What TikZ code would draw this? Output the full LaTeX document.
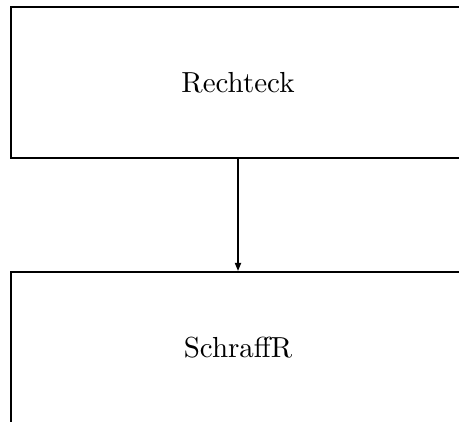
\documentclass[tikz,border=0pt]{standalone}
\usepackage{fontspec}
\newfontfamily\lmten{lmroman10-regular.otf}[Ligatures=TeX]
\usetikzlibrary{arrows.meta}
\begin{document}
\begin{tikzpicture}[x=1pt,y=-1pt,
  box/.style={draw,line width=2pt,minimum width=454pt,minimum height=151pt,inner sep=0pt,font=\lmten\fontsize{29}{34}\selectfont},
  conn/.style={line width=1.6pt,-{Triangle[length=8pt,width=6pt]}}]
\useasboundingbox (0,0) rectangle (459,422);
\clip (0,0) rectangle (459,422);
\node[box] (r) at (238,82.5) {Rechteck};
\node[box] (s) at (238,347.5) {SchraffR};
\draw[conn] (r.south) -- (s.north);
\end{tikzpicture}
\end{document}
